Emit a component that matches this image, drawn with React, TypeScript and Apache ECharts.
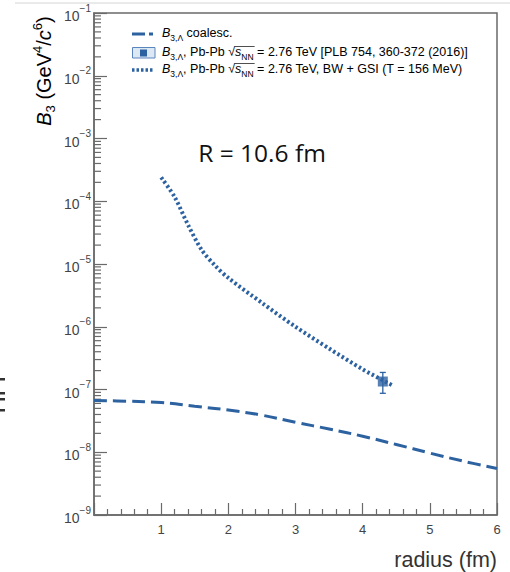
import React, { useEffect, useRef } from "react";
import * as echarts from "echarts";

const FONT = '"Liberation Sans", Arial, Helvetica, sans-serif';
const BLUE = "#2d62a1";
const AXIS = "#6a6a6a";
const LABEL = "#444";

// coalescence curve (radius in fm, B3 in GeV^4/c^6)
const coalX = [0, 0.5, 1, 1.5, 2, 2.5, 3, 3.5, 4, 4.5, 5, 5.5, 6];
const coalY = [6.7e-8, 6.5e-8, 6.2e-8, 5.4e-8, 4.7e-8, 3.9e-8, 3.0e-8, 2.35e-8, 1.8e-8, 1.33e-8, 9.7e-9, 7.2e-9, 5.5e-9];

// BW + GSI curve
const bwX = [1.0, 1.2, 1.4, 1.6, 1.8, 2.0, 2.5, 3.0, 3.5, 4.0, 4.45];
const bwY = [2.4e-4, 1.17e-4, 4.2e-5, 1.7e-5, 9.5e-6, 6.0e-6, 2.4e-6, 1.0e-6, 4.5e-7, 2.1e-7, 1.15e-7];

// measured point
const ptX = [4.3];
const ptY = [1.34e-7];
const ptLo = [8.7e-8];
const ptHi = [1.87e-7];

// axis ticks
const xTicks = [0, 1, 2, 3, 4, 5, 6];
const yDecades = [-9, -8, -7, -6, -5, -4, -3, -2, -1];
const yMinorMult = [2, 3, 4, 5, 6, 7, 8, 9];

const yMinorTicks: number[][] = [];
yDecades.slice(0, -1).forEach((d) => {
  yMinorMult.forEach((m) => yMinorTicks.push([0, m * Math.pow(10, d)]));
});

const LEG_FS = 12.5;
const LEG_SUB = 8.5;

function measure(font: string, s: string): number {
  const c = document.createElement("canvas").getContext("2d");
  if (!c) return s.length * 6;
  c.font = font;
  return c.measureText(s).width;
}

export default function App() {
  const ref = useRef<HTMLDivElement>(null);

  useEffect(() => {
    if (!ref.current) return;
    const chart = echarts.init(ref.current, null, { renderer: "svg" });

    const legendRich = {
      i: { fontStyle: "italic", fontSize: LEG_FS, fontFamily: FONT, color: "#222", lineHeight: 16, verticalAlign: "top" },
      n: { fontSize: LEG_FS, fontFamily: FONT, color: "#222", lineHeight: 16, verticalAlign: "top" },
      sub: { fontSize: LEG_SUB, fontFamily: FONT, color: "#222", lineHeight: 8, verticalAlign: "bottom" },
    };

    // overline position for sqrt(s_NN)
    const legX = 162;
    const pre =
      measure(`italic ${LEG_FS}px ${FONT}`, "B") +
      measure(`${LEG_SUB}px ${FONT}`, "3,\u039B") +
      measure(`${LEG_FS}px ${FONT}`, ", Pb-Pb \u221A");
    const olStart = legX + pre - 0.5;
    const olEnd = olStart + measure(`italic ${LEG_FS}px ${FONT}`, "s") + measure(`${LEG_SUB}px ${FONT}`, "NN") + 1.5;

    chart.setOption({
      animation: false,
      grid: {
        left: 94,
        right: 13,
        top: 13,
        bottom: 57,
        show: true,
        borderColor: AXIS,
        borderWidth: 1.5,
      },
      xAxis: {
        type: "value",
        min: xTicks[0],
        max: xTicks[xTicks.length - 1],
        interval: 1,
        axisLine: { show: true, onZero: false, lineStyle: { color: AXIS, width: 1.5 } },
        axisTick: { show: true, inside: true, length: 12, lineStyle: { color: AXIS, width: 1.2 } },
        minorTick: { show: true, splitNumber: 5, length: 6, lineStyle: { color: AXIS, width: 1.2 } },
        splitLine: { show: false },
        axisLabel: {
          formatter: (v: number) => (v === 0 ? "" : String(v)),
          color: LABEL,
          fontSize: 13,
          fontFamily: FONT,
          margin: 8,
        },
      },
      yAxis: {
        type: "log",
        logBase: 10,
        min: 1e-9,
        max: 1e-1,
        interval: 1,
        axisLine: { show: true, lineStyle: { color: AXIS, width: 1.5 } },
        axisTick: { show: true, inside: true, length: 13, lineStyle: { color: AXIS, width: 1.2 } },
        minorTick: { show: false },
        splitLine: { show: false },
        axisLabel: {
          margin: 3,
          formatter: (v: number) => `{b|10}{s|\u2212${Math.abs(Math.round(Math.log10(v)))}}`,
          rich: {
            b: { fontSize: 14, fontFamily: FONT, color: LABEL, lineHeight: 20, verticalAlign: "bottom" },
            s: { fontSize: 10, fontFamily: FONT, color: LABEL, lineHeight: 12, verticalAlign: "top" },
          },
        },
      },
      series: [
        {
          type: "custom",
          silent: true,
          data: yMinorTicks,
          renderItem: (params: any, api: any) => {
            const p = api.coord([api.value(0), api.value(1)]);
            return {
              type: "line",
              shape: { x1: p[0], y1: p[1], x2: p[0] + 7, y2: p[1] },
              style: { stroke: AXIS, lineWidth: 1.2 },
            };
          },
          z: 1,
        },
        {
          type: "line",
          name: "coalesc",
          data: coalX.map((x, i) => [x, coalY[i]]),
          smooth: 0.4,
          symbol: "none",
          lineStyle: { color: BLUE, width: 3, type: [13, 6] },
          z: 3,
        },
        {
          type: "line",
          name: "bwgsi",
          data: bwX.map((x, i) => [x, bwY[i]]),
          smooth: 0.3,
          symbol: "none",
          lineStyle: { color: BLUE, width: 4, type: [2.5, 2.5] },
          z: 3,
        },
        {
          type: "custom",
          silent: true,
          data: ptX.map((x, i) => [x, ptLo[i], ptHi[i]]),
          renderItem: (params: any, api: any) => {
            const lo = api.coord([api.value(0), api.value(1)]);
            const hi = api.coord([api.value(0), api.value(2)]);
            const st = { stroke: BLUE, lineWidth: 1.3 };
            return {
              type: "group",
              children: [
                { type: "line", shape: { x1: lo[0], y1: lo[1], x2: hi[0], y2: hi[1] }, style: st },
                { type: "line", shape: { x1: lo[0] - 3, y1: lo[1], x2: lo[0] + 3, y2: lo[1] }, style: st },
                { type: "line", shape: { x1: hi[0] - 3, y1: hi[1], x2: hi[0] + 3, y2: hi[1] }, style: st },
              ],
            };
          },
          z: 4,
        },
        {
          type: "scatter",
          data: ptX.map((x, i) => [x, ptY[i]]),
          symbol: "rect",
          symbolSize: 10,
          itemStyle: { color: BLUE },
          z: 5,
        },
      ],
      graphic: [
        // top rule
        { type: "line", shape: { x1: 15, y1: 3, x2: 510, y2: 3 }, style: { stroke: "#d4d4d4", lineWidth: 1 } },
        // left clipped glyph fragments
        { type: "rect", shape: { x: 0, y: 378, width: 5, height: 2.5 }, style: { fill: "#333" } },
        { type: "rect", shape: { x: 0, y: 392, width: 5, height: 2.5 }, style: { fill: "#333" } },
        { type: "rect", shape: { x: 0, y: 398, width: 5, height: 2.5 }, style: { fill: "#333" } },
        { type: "rect", shape: { x: 0, y: 409, width: 5, height: 2.5 }, style: { fill: "#333" } },
        // y axis title
        {
          type: "text",
          x: 44,
          y: 71,
          rotation: Math.PI / 2,
          style: {
            text: "{i|B}{sub|3}{n| (GeV}{sup|4}{n|/}{i|c}{sup|6}{n|)}",
            textAlign: "center",
            textVerticalAlign: "middle",
            rich: {
              i: { fontStyle: "italic", fontSize: 20, fontFamily: FONT, color: "#333", lineHeight: 26, verticalAlign: "middle" },
              n: { fontSize: 20, fontFamily: FONT, color: "#333", lineHeight: 26, verticalAlign: "middle" },
              sub: { fontSize: 13, fontFamily: FONT, color: "#333", lineHeight: 10, verticalAlign: "bottom" },
              sup: { fontSize: 13, fontFamily: FONT, color: "#333", lineHeight: 10, verticalAlign: "top" },
            },
          },
        },
        // x axis title
        {
          type: "text",
          x: 497,
          y: 560,
          style: {
            text: "radius (fm)",
            fontSize: 21.5,
            fontFamily: FONT,
            fill: "#333",
            textAlign: "right",
            textVerticalAlign: "middle",
          },
        },
        // annotation
        {
          type: "text",
          x: 262,
          y: 152,
          style: {
            text: "R = 10.6 fm",
            fontSize: 24.5,
            fontFamily: '"Open Sans", sans-serif',
            fill: "#111",
            textAlign: "center",
            textVerticalAlign: "middle",
          },
        },
        // legend row 1
        { type: "line", shape: { x1: 132, y1: 34, x2: 145, y2: 34 }, style: { stroke: BLUE, lineWidth: 3 } },
        { type: "line", shape: { x1: 149, y1: 34, x2: 153, y2: 34 }, style: { stroke: BLUE, lineWidth: 3 } },
        {
          type: "text",
          x: legX,
          y: 34,
          style: { text: "{i|B}{sub|3,\u039B}{n| coalesc.}", textVerticalAlign: "middle", rich: legendRich },
        },
        // legend row 2
        { type: "rect", shape: { x: 132.5, y: 47.5, width: 22.5, height: 10.5 }, style: { fill: "#dde8f5", stroke: "#5a86bd", lineWidth: 1 } },
        { type: "rect", shape: { x: 140, y: 49.5, width: 7, height: 7 }, style: { fill: BLUE } },
        {
          type: "text",
          x: legX,
          y: 53,
          style: {
            text: "{i|B}{sub|3,\u039B}{n|, Pb-Pb \u221A}{i|s}{sub|NN}{n| = 2.76 TeV [PLB 754, 360-372 (2016)]}",
            textVerticalAlign: "middle",
            rich: legendRich,
          },
        },
        { type: "line", shape: { x1: olStart, y1: 46.5, x2: olEnd, y2: 46.5 }, style: { stroke: "#222", lineWidth: 0.8 } },
        // legend row 3
        { type: "line", shape: { x1: 132, y1: 70, x2: 153, y2: 70 }, style: { stroke: BLUE, lineWidth: 3.5, lineDash: [2.5, 2] } },
        {
          type: "text",
          x: legX,
          y: 70,
          style: {
            text: "{i|B}{sub|3,\u039B}{n|, Pb-Pb \u221A}{i|s}{sub|NN}{n| = 2.76 TeV, BW + GSI (T = 156 MeV)}",
            textVerticalAlign: "middle",
            rich: legendRich,
          },
        },
        { type: "line", shape: { x1: olStart, y1: 63.5, x2: olEnd, y2: 63.5 }, style: { stroke: "#222", lineWidth: 0.8 } },
      ],
    });

    return () => chart.dispose();
  }, []);

  return (
    <div
      ref={ref}
      style={{ position: "absolute", left: 0, top: 0, width: 510, height: 572, background: "#fff" }}
    />
  );
}
